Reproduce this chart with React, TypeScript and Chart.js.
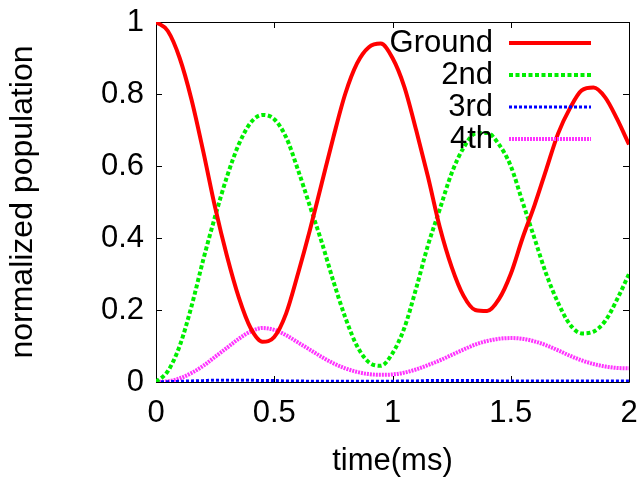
import React, { useEffect, useRef } from "react";
import { Chart, registerables } from "chart.js";

Chart.register(...registerables);

const timeMs = [
  0, 0.05, 0.1, 0.15, 0.2, 0.25, 0.3, 0.35, 0.4, 0.45, 0.5, 0.55, 0.6, 0.65, 0.7, 0.75, 0.8, 0.85, 0.9, 0.95,
  1.0, 1.05, 1.1, 1.15, 1.2, 1.25, 1.3, 1.35, 1.4, 1.45, 1.5, 1.55, 1.6, 1.65, 1.7, 1.75, 1.8, 1.85, 1.9, 1.95, 2.0,
];

const groundPop = [
  1.0, 0.975, 0.9, 0.785, 0.64, 0.485, 0.35, 0.235, 0.15, 0.112, 0.125, 0.19, 0.3, 0.42, 0.55, 0.68, 0.8, 0.885, 0.93, 0.94,
  0.9, 0.82, 0.7, 0.57, 0.43, 0.32, 0.24, 0.2, 0.197, 0.23, 0.3, 0.4, 0.49, 0.59, 0.69, 0.76, 0.81, 0.818, 0.79, 0.73, 0.66,
];

const secondPop = [
  0, 0.03, 0.1, 0.21, 0.34, 0.46, 0.57, 0.66, 0.72, 0.742, 0.73, 0.68, 0.59, 0.49, 0.39, 0.28, 0.18, 0.1, 0.055, 0.045,
  0.08, 0.15, 0.26, 0.38, 0.48, 0.58, 0.65, 0.69, 0.692, 0.66, 0.6, 0.5, 0.4, 0.3, 0.22, 0.16, 0.135, 0.14, 0.17, 0.23, 0.3,
];

const thirdPop = [
  0, 0.001, 0.002, 0.003, 0.004, 0.005, 0.005, 0.005, 0.005, 0.004, 0.004, 0.003, 0.003, 0.002, 0.002, 0.002, 0.002, 0.002, 0.002, 0.002,
  0.002, 0.003, 0.003, 0.004, 0.004, 0.004, 0.004, 0.004, 0.004, 0.003, 0.003, 0.003, 0.003, 0.003, 0.003, 0.003, 0.003, 0.003, 0.003, 0.003, 0.003,
];

const fourthPop = [
  0, 0.002, 0.01, 0.025, 0.045, 0.07, 0.095, 0.12, 0.14, 0.15, 0.145, 0.13, 0.11, 0.09, 0.07, 0.052, 0.038, 0.028, 0.022, 0.02,
  0.021, 0.026, 0.035, 0.047, 0.06, 0.075, 0.09, 0.104, 0.114, 0.12, 0.122, 0.12, 0.113, 0.102, 0.088, 0.073, 0.06, 0.05, 0.043, 0.039, 0.038,
];

const seriesLabels = ["Ground", "2nd", "3rd", "4th"];
const xTickValues = [0, 0.5, 1, 1.5, 2];
const yTickValues = [0, 0.2, 0.4, 0.6, 0.8, 1];

const FONT = "'Liberation Sans', Arial, Helvetica, sans-serif";
const FS = 31;

const framePlugin = {
  id: "gnuFrame",
  beforeDatasetsDraw(chart: any) {
    const { ctx, chartArea } = chart;
    const { left, right, top, bottom } = chartArea;
    const xs = chart.scales.x;
    const ys = chart.scales.y;
    ctx.save();
    ctx.strokeStyle = "#000";
    ctx.lineWidth = 1;
    ctx.beginPath();
    ctx.rect(Math.round(left) + 0.5, Math.round(top) + 0.5, Math.round(right - left), Math.round(bottom - top));
    const tl = 6;
    xTickValues.forEach((v) => {
      const px = Math.round(xs.getPixelForValue(v)) + 0.5;
      ctx.moveTo(px, bottom);
      ctx.lineTo(px, bottom - tl);
      ctx.moveTo(px, top);
      ctx.lineTo(px, top + tl);
    });
    yTickValues.forEach((v) => {
      const py = Math.round(ys.getPixelForValue(v)) + 0.5;
      ctx.moveTo(left, py);
      ctx.lineTo(left + tl, py);
      ctx.moveTo(right, py);
      ctx.lineTo(right - tl, py);
    });
    ctx.stroke();
    ctx.restore();
  },
  afterDatasetsDraw(chart: any) {
    const { ctx } = chart;
    const rows = [43, 75, 107, 139];
    ctx.save();
    ctx.font = `${FS}px ${FONT}`;
    ctx.textAlign = "right";
    ctx.textBaseline = "middle";
    chart.data.datasets.forEach((ds: any, i: number) => {
      const y = rows[i];
      ctx.fillStyle = "#000";
      ctx.fillText(ds.label, 493, y);
      ctx.beginPath();
      ctx.strokeStyle = ds.borderColor;
      ctx.lineWidth = ds.borderWidth;
      ctx.setLineDash(ds.borderDash || []);
      ctx.moveTo(509, y);
      ctx.lineTo(591, y);
      ctx.stroke();
    });
    ctx.restore();
  },
};

export default function App() {
  const canvasRef = useRef<HTMLCanvasElement | null>(null);

  useEffect(() => {
    const mk = (vals: number[]) => timeMs.map((t, i) => ({ x: t, y: vals[i] }));
    const chart = new Chart(canvasRef.current as HTMLCanvasElement, {
      type: "line",
      data: {
        datasets: [
          { label: seriesLabels[0], data: mk(groundPop), borderColor: "#ff0000", borderWidth: 4, borderDash: [] },
          { label: seriesLabels[1], data: mk(secondPop), borderColor: "#00ee00", borderWidth: 4, borderDash: [4, 2.5] },
          { label: seriesLabels[2], data: mk(thirdPop), borderColor: "#0000ff", borderWidth: 3, borderDash: [3, 2] },
          { label: seriesLabels[3], data: mk(fourthPop), borderColor: "#ff33ff", borderWidth: 4, borderDash: [2, 1] },
        ],
      },
      options: {
        animation: false,
        responsive: false,
        maintainAspectRatio: false,
        events: [],
        elements: {
          point: { radius: 0 },
          line: { cubicInterpolationMode: "monotone", borderCapStyle: "butt", fill: false },
        },
        layout: { padding: { left: 0, top: 22, right: 13, bottom: 0 } },
        plugins: { legend: { display: false }, tooltip: { enabled: false }, title: { display: false } },
        scales: {
          x: {
            type: "linear",
            min: 0,
            max: 2,
            afterBuildTicks: (s: any) => {
              s.ticks = xTickValues.map((v) => ({ value: v }));
            },
            afterFit: (s: any) => {
              s.height = 98;
              s.paddingLeft = 0;
              s.paddingRight = 0;
            },
            ticks: {
              color: "#000",
              font: { family: FONT, size: FS },
              padding: 13,
              maxRotation: 0,
              autoSkip: false,
              callback: (v: any) => String(v),
            },
            grid: { display: false, drawTicks: false },
            border: { display: false },
            title: { display: true, text: "time(ms)", color: "#000", font: { family: FONT, size: FS }, padding: 0 },
          },
          y: {
            type: "linear",
            min: 0,
            max: 1,
            afterBuildTicks: (s: any) => {
              s.ticks = yTickValues.map((v) => ({ value: v }));
            },
            afterFit: (s: any) => {
              s.width = 156;
              s.paddingTop = 0;
              s.paddingBottom = 0;
            },
            ticks: {
              color: "#000",
              font: { family: FONT, size: FS },
              padding: 12,
              autoSkip: false,
              callback: (v: any) => String(Math.round(v * 10) / 10),
            },
            grid: { display: false, drawTicks: false },
            border: { display: false },
            title: {
              display: true,
              text: "normalized population",
              color: "#000",
              font: { family: FONT, size: 32 },
              padding: { top: 4, bottom: 0 },
            },
          },
        },
      },
      plugins: [framePlugin],
    });
    return () => chart.destroy();
  }, []);

  return (
    <div style={{ position: "fixed", left: 0, top: 0, width: 642, height: 480, background: "#fff" }}>
      <canvas ref={canvasRef} width={642} height={480} style={{ display: "block", width: 642, height: 480 }} />
    </div>
  );
}
